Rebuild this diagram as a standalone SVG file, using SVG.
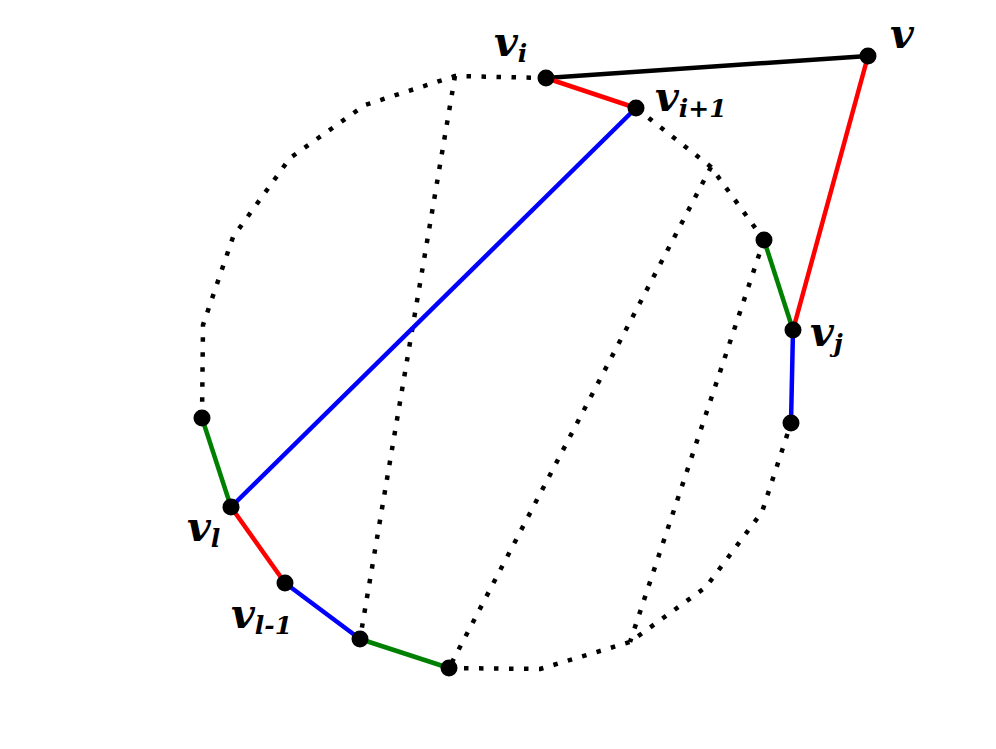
<svg xmlns="http://www.w3.org/2000/svg" width="996" height="749" viewBox="0 0 996 749">
<style>
.dot{fill:none;stroke:#000;stroke-width:4.5;stroke-dasharray:4.5 10.5;stroke-linejoin:round}
.s{fill:none;stroke-width:4.5;stroke-linecap:butt}
.k{stroke:#000}.r{stroke:#ff0000}.b{stroke:#0000ff}.g{stroke:#008000}
.n{fill:#000}
.lbl{font-family:"DejaVu Serif",serif;font-weight:bold;font-style:italic;fill:#000}
.m{font-size:41px}.sub{font-size:25px}
</style>
<rect width="996" height="749" fill="#fff"/>
<g id="connectors">
<polyline class="dot" points="546,78 455,76 365,105 290,158 233,237 203,325 202,418"/>
<polyline class="dot" points="449,668 540,669 630,642 706,587 762,512 791,423"/>
<polyline class="dot" points="764,240 711,167 636,108"/>
<line class="dot" x1="455" y1="76" x2="360" y2="639"/>
<line class="dot" x1="711" y1="167" x2="449" y2="668"/>
<line class="dot" x1="764" y1="240" x2="630" y2="642"/>
<line class="s k" x1="546" y1="78" x2="868" y2="56"/>
<line class="s r" x1="546" y1="78" x2="636" y2="108"/>
<line class="s r" x1="868" y1="56" x2="793" y2="330"/>
<line class="s b" x1="636" y1="108" x2="231" y2="507"/>
<line class="s g" x1="231" y1="507" x2="202" y2="418"/>
<line class="s r" x1="231" y1="507" x2="285" y2="583"/>
<line class="s b" x1="285" y1="583" x2="360" y2="639"/>
<line class="s g" x1="360" y1="639" x2="449" y2="668"/>
<line class="s g" x1="764" y1="240" x2="793" y2="330"/>
<line class="s b" x1="793" y1="330" x2="791" y2="423"/>
</g>
<g id="node-vi"><circle class="n" cx="546" cy="78" r="8.5"/><text class="lbl m" x="494" y="56">v<tspan class="sub" dy="6">i</tspan></text></g>
<g id="node-v"><circle class="n" cx="868" cy="56" r="8.5"/><text class="lbl m" x="890" y="48">v</text></g>
<g id="node-vi1"><circle class="n" cx="636" cy="108" r="8.5"/><text class="lbl m" x="655" y="111">v<tspan class="sub" dy="6">i+1</tspan></text></g>
<g id="node-vj"><circle class="n" cx="793" cy="330" r="8.5"/><text class="lbl m" x="810" y="346">v<tspan class="sub" dy="6">j</tspan></text></g>
<g id="node-a"><circle class="n" cx="764" cy="240" r="8.5"/></g>
<g id="node-b"><circle class="n" cx="791" cy="423" r="8.5"/></g>
<g id="node-c"><circle class="n" cx="202" cy="418" r="8.5"/></g>
<g id="node-vl"><circle class="n" cx="231" cy="507" r="8.5"/><text class="lbl m" x="187" y="541">v<tspan class="sub" dy="6">l</tspan></text></g>
<g id="node-vl1"><circle class="n" cx="285" cy="583" r="8.5"/><text class="lbl m" x="231" y="628">v<tspan class="sub" dy="6">l-1</tspan></text></g>
<g id="node-d"><circle class="n" cx="360" cy="639" r="8.5"/></g>
<g id="node-e"><circle class="n" cx="449" cy="668" r="8.5"/></g>
</svg>
